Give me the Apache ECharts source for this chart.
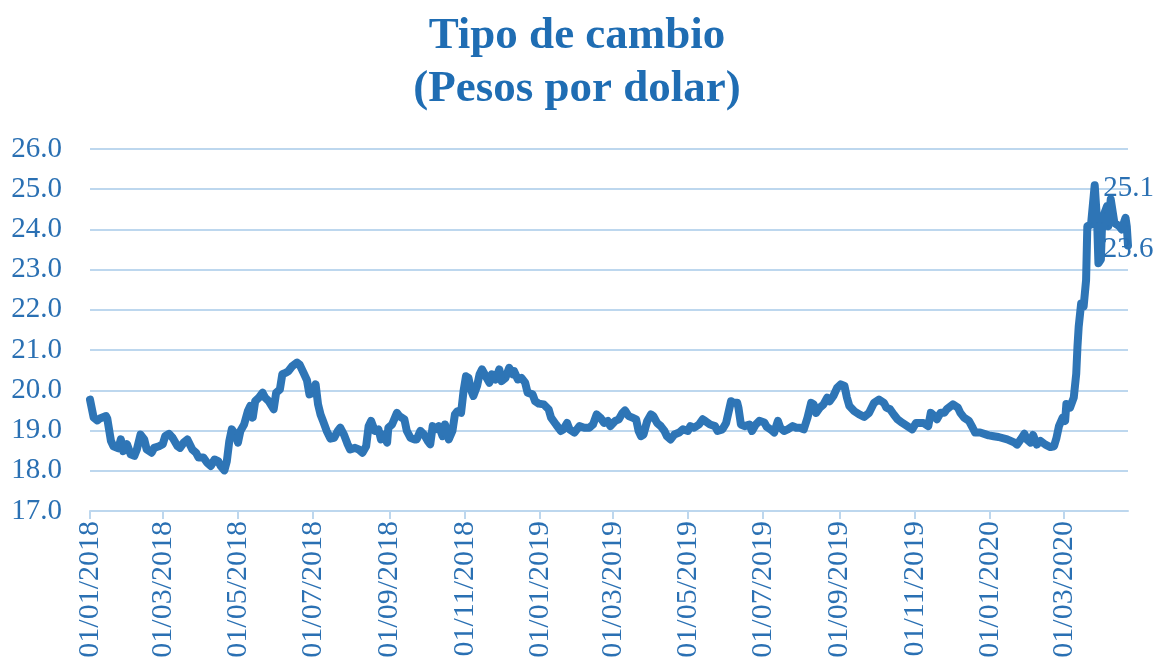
<!DOCTYPE html>
<html>
<head>
<meta charset="utf-8">
<title>Tipo de cambio</title>
<script src="https://cdn.jsdelivr.net/npm/echarts@6/dist/echarts.min.js"></script>
<style>
    html, body { margin: 0; padding: 0; background: #fff; }
    #chart { width: 1154px; height: 661px; }
</style>
</head>
<body>
<div id="chart"></div>
<script>
// Rango del eje de fechas y meses con etiqueta
var inicio = '2018-01-01';
var fin = '2020-04-22';
var mesesEtiqueta = ['01', '03', '05', '07', '09', '11'];

// Tipo de cambio (pesos por dolar)
var fechas2018 = [
    '2018-01-01','2018-01-04','2018-01-07','2018-01-09','2018-01-14','2018-01-15','2018-01-18','2018-01-20','2018-01-24','2018-01-26',
    '2018-01-28','2018-01-31','2018-02-03','2018-02-06','2018-02-08','2018-02-11','2018-02-14','2018-02-16','2018-02-20','2018-02-22',
    '2018-02-26','2018-03-01','2018-03-03','2018-03-06','2018-03-09','2018-03-13','2018-03-15','2018-03-18','2018-03-21','2018-03-25',
    '2018-03-28','2018-03-30','2018-04-03','2018-04-06','2018-04-09','2018-04-12','2018-04-15','2018-04-17','2018-04-20','2018-04-22',
    '2018-04-24','2018-04-26','2018-04-29','2018-05-01','2018-05-03','2018-05-06','2018-05-09','2018-05-11','2018-05-13','2018-05-15',
    '2018-05-18','2018-05-21','2018-05-23','2018-05-26','2018-05-30','2018-06-01','2018-06-04','2018-06-06','2018-06-09','2018-06-11',
    '2018-06-14','2018-06-18','2018-06-20','2018-06-23','2018-06-26','2018-06-28','2018-07-01','2018-07-03','2018-07-05','2018-07-07',
    '2018-07-09','2018-07-12','2018-07-15','2018-07-18','2018-07-21','2018-07-23','2018-07-26','2018-07-29','2018-07-31','2018-08-04',
    '2018-08-07','2018-08-10','2018-08-13','2018-08-15','2018-08-17','2018-08-20','2018-08-23','2018-08-25','2018-08-27','2018-08-30',
    '2018-08-31','2018-09-03','2018-09-07','2018-09-09','2018-09-13','2018-09-15','2018-09-18','2018-09-21','2018-09-23','2018-09-26',
    '2018-09-29','2018-10-02','2018-10-04','2018-10-06','2018-10-08','2018-10-11','2018-10-14','2018-10-16','2018-10-19','2018-10-22',
    '2018-10-24','2018-10-26','2018-10-29','2018-10-31','2018-11-02','2018-11-04','2018-11-06','2018-11-08','2018-11-11','2018-11-13',
    '2018-11-15','2018-11-18','2018-11-21','2018-11-23','2018-11-26','2018-11-29','2018-12-01','2018-12-04','2018-12-07','2018-12-10',
    '2018-12-11','2018-12-14','2018-12-17','2018-12-20','2018-12-22','2018-12-26','2018-12-28','2018-12-31'
];
var valores2018 = [
    19.77, 19.32, 19.25, 19.30, 19.36, 19.30, 18.74, 18.61, 18.56, 18.78,
    18.49, 18.66, 18.41, 18.37, 18.53, 18.90, 18.78, 18.53, 18.45, 18.57,
    18.61, 18.66, 18.86, 18.92, 18.82, 18.61, 18.57, 18.70, 18.78, 18.53,
    18.45, 18.33, 18.33, 18.20, 18.12, 18.28, 18.24, 18.12, 18.01, 18.24,
    18.74, 19.03, 18.90, 18.70, 18.99, 19.15, 19.48, 19.61, 19.32, 19.73,
    19.82, 19.94, 19.82, 19.73, 19.53, 19.94, 20.02, 20.40, 20.44, 20.48,
    20.60, 20.69, 20.64, 20.45, 20.25, 19.90, 19.94, 20.15, 19.65, 19.40,
    19.24, 18.99, 18.80, 18.82, 18.99, 19.07, 18.90, 18.66, 18.53, 18.57,
    18.53, 18.45, 18.61, 19.11, 19.24, 18.99, 19.03, 18.78, 18.90, 18.70,
    19.07, 19.15, 19.44, 19.36, 19.28, 18.99, 18.82, 18.78, 18.78, 18.99,
    18.90, 18.74, 18.66, 19.11, 19.03, 19.11, 18.86, 19.15, 18.78, 18.99,
    19.40, 19.48, 19.44, 19.98, 20.35, 20.31, 20.02, 19.86, 20.11, 20.40,
    20.52, 20.35, 20.19, 20.40, 20.27, 20.52, 20.23, 20.31, 20.56, 20.40,
    20.48, 20.27, 20.31, 20.19, 19.94, 19.90, 19.73, 19.67
];

var fechas2019 = [
    '2019-01-04','2019-01-08','2019-01-10','2019-01-14','2019-01-18','2019-01-20','2019-01-23','2019-01-25','2019-01-29','2019-02-02',
    '2019-02-06','2019-02-10','2019-02-13','2019-02-16','2019-02-19','2019-02-22','2019-02-25','2019-02-27','2019-03-03','2019-03-06',
    '2019-03-09','2019-03-11','2019-03-14','2019-03-17','2019-03-20','2019-03-22','2019-03-24','2019-03-26','2019-03-29','2019-04-01',
    '2019-04-03','2019-04-06','2019-04-09','2019-04-12','2019-04-14','2019-04-17','2019-04-20','2019-04-24','2019-04-27','2019-05-01',
    '2019-05-03','2019-05-06','2019-05-10','2019-05-13','2019-05-15','2019-05-19','2019-05-23','2019-05-25','2019-05-29','2019-06-01',
    '2019-06-02','2019-06-05','2019-06-07','2019-06-10','2019-06-11','2019-06-13','2019-06-16','2019-06-20','2019-06-22','2019-06-25',
    '2019-06-28','2019-07-02','2019-07-04','2019-07-07','2019-07-10','2019-07-13','2019-07-15','2019-07-18','2019-07-21','2019-07-25',
    '2019-07-28','2019-07-31','2019-08-03','2019-08-06','2019-08-09','2019-08-11','2019-08-13','2019-08-16','2019-08-19','2019-08-22',
    '2019-08-24','2019-08-27','2019-08-30','2019-09-02','2019-09-05','2019-09-07','2019-09-09','2019-09-13','2019-09-17','2019-09-21',
    '2019-09-25','2019-09-29','2019-10-03','2019-10-07','2019-10-09','2019-10-12','2019-10-15','2019-10-18','2019-10-22','2019-10-26',
    '2019-10-30','2019-11-02','2019-11-05','2019-11-08','2019-11-12','2019-11-14','2019-11-17','2019-11-19','2019-11-22','2019-11-25',
    '2019-11-27','2019-12-02','2019-12-06','2019-12-08','2019-12-11','2019-12-15','2019-12-18','2019-12-20','2019-12-24','2019-12-28',
    '2019-12-31'
];
var valores2019 = [
    19.65, 19.53, 19.32, 19.15, 18.99, 19.03, 19.19, 19.03, 18.95, 19.11,
    19.07, 19.07, 19.15, 19.40, 19.32, 19.19, 19.24, 19.11, 19.24, 19.28,
    19.44, 19.50, 19.36, 19.32, 19.28, 18.99, 18.86, 18.90, 19.24, 19.40,
    19.36, 19.19, 19.11, 18.99, 18.86, 18.78, 18.90, 18.95, 19.03, 18.99,
    19.11, 19.07, 19.15, 19.28, 19.24, 19.15, 19.11, 18.99, 19.03, 19.19,
    19.15, 19.73, 19.69, 19.69, 19.57, 19.15, 19.11, 19.15, 18.99, 19.15,
    19.24, 19.20, 19.09, 19.03, 18.95, 19.24, 19.07, 18.99, 19.03, 19.11,
    19.07, 19.07, 19.03, 19.32, 19.69, 19.65, 19.44, 19.57, 19.65, 19.82,
    19.73, 19.86, 20.06, 20.15, 20.11, 19.82, 19.61, 19.48, 19.40, 19.34,
    19.44, 19.69, 19.77, 19.69, 19.57, 19.53, 19.40, 19.28, 19.19, 19.11,
    19.03, 19.19, 19.19, 19.19, 19.11, 19.44, 19.36, 19.28, 19.44, 19.44,
    19.53, 19.65, 19.57, 19.44, 19.32, 19.24, 19.07, 18.95, 18.95, 18.91,
    18.88
];

var fechas2020 = [
    '2020-01-04','2020-01-08','2020-01-15','2020-01-21','2020-01-23','2020-01-26','2020-01-29','2020-01-31','2020-02-03','2020-02-05',
    '2020-02-08','2020-02-11','2020-02-15','2020-02-19','2020-02-22','2020-02-24','2020-02-26','2020-02-29','2020-03-02','2020-03-03',
    '2020-03-06','2020-03-08','2020-03-09','2020-03-11','2020-03-12','2020-03-13','2020-03-15','2020-03-17','2020-03-19','2020-03-20',
    '2020-03-23','2020-03-24','2020-03-26','2020-03-28','2020-03-29','2020-03-31','2020-04-01','2020-04-03','2020-04-05','2020-04-06',
    '2020-04-08','2020-04-09','2020-04-11','2020-04-13','2020-04-15','2020-04-17','2020-04-19','2020-04-20','2020-04-21','2020-04-22'
];
var valores2020 = [
    18.86, 18.84, 18.78, 18.70, 18.65, 18.78, 18.92, 18.78, 18.70, 18.89,
    18.65, 18.74, 18.65, 18.59, 18.61, 18.82, 19.11, 19.32, 19.24, 19.66,
    19.57, 19.74, 19.82, 20.41, 21.08, 21.58, 22.16, 22.08, 22.74, 24.08,
    24.12, 24.16, 25.10, 24.16, 23.16, 23.25, 24.16, 24.41, 24.58, 24.08,
    24.75, 24.79, 24.16, 24.12, 24.08, 24.00, 24.20, 24.29, 24.08, 23.60
];

var azul = '#2e75b6';
var azulTexto = '#2a70b3';
var azulTitulo = '#1f6db3';
var colorRejilla = '#bdd7ee';
var fuente = '"Liberation Serif", "Times New Roman", serif';

/**
 * Devuelve todos los dias (YYYY-MM-DD) entre dos fechas, ambas incluidas.
 */
function listaDias(desde, hasta) {
    var dias = [];
    var d = new Date(desde + 'T00:00:00Z');
    var h = new Date(hasta + 'T00:00:00Z');
    while (d <= h) {
        dias.push(d.toISOString().slice(0, 10));
        d.setUTCDate(d.getUTCDate() + 1);
    }
    return dias;
}

function esPrimeroDeMes(index, value) {
    return value.slice(8) === '01' && mesesEtiqueta.indexOf(value.slice(5, 7)) >= 0;
}

function renderTipoCambio(chartDivId) {
    var chart = echarts.init(document.getElementById(chartDivId));

    var dias = listaDias(inicio, fin);
    var fechas = fechas2018.concat(fechas2019, fechas2020);
    var valores = valores2018.concat(valores2019, valores2020);

    var iMax = 0;
    for (var i = 1; i < valores.length; i++) {
        if (valores[i] > valores[iMax]) iMax = i;
    }
    var iUlt = valores.length - 1;

    var datos = [];
    for (var j = 0; j < fechas.length; j++) {
        var item = { value: [fechas[j], valores[j]] };
        if (j === iMax) {
            item.label = { show: true, position: 'right', distance: 8, offset: [0, 3] };
        }
        if (j === iUlt) {
            item.label = { show: true, position: 'inside', offset: [0, 4] };
        }
        datos.push(item);
    }

    var options = {
        animation: false,
        title: {
            text: 'Tipo de cambio\n(Pesos por dolar)',
            left: 'center',
            top: 5,
            textStyle: {
                fontFamily: fuente,
                fontWeight: 'bold',
                fontSize: 45,
                lineHeight: 53,
                color: azulTitulo
            }
        },
        grid: {
            left: 90,
            right: 26,
            top: 149,
            bottom: 150,
            containLabel: false,
            outerBoundsMode: 'none'
        },
        xAxis: {
            type: 'category',
            data: dias,
            boundaryGap: false,
            axisLine: { lineStyle: { color: colorRejilla, width: 2 } },
            axisTick: {
                show: true,
                interval: esPrimeroDeMes,
                length: 8,
                lineStyle: { color: colorRejilla, width: 2 }
            },
            axisLabel: {
                interval: esPrimeroDeMes,
                rotate: 90,
                margin: 10,
                fontFamily: fuente,
                fontSize: 30,
                color: azulTexto,
                formatter: function (v) {
                    return v.slice(8, 10) + '/' + v.slice(5, 7) + '/' + v.slice(0, 4);
                }
            },
            splitLine: { show: false }
        },
        yAxis: {
            type: 'value',
            min: 17,
            max: 26,
            interval: 1,
            axisLine: { show: false },
            axisTick: { show: false },
            axisLabel: {
                margin: 28,
                fontFamily: fuente,
                fontSize: 29,
                color: azulTexto,
                formatter: function (v) { return v.toFixed(1); }
            },
            splitLine: { lineStyle: { color: colorRejilla, width: 2 } }
        },
        series: [
            {
                name: 'Tipo de cambio',
                type: 'line',
                data: datos,
                symbol: 'circle',
                symbolSize: 1,
                showSymbol: true,
                showAllSymbol: true,
                itemStyle: { color: azul },
                lineStyle: { color: azul, width: 8, cap: 'round', join: 'round' },
                label: {
                    show: false,
                    fontFamily: fuente,
                    fontSize: 29,
                    color: azulTexto,
                    formatter: function (p) { return p.value[1].toFixed(1); }
                },
                emphasis: { disabled: true }
            }
        ]
    };

    chart.setOption(options);
    chart.resize();
    window.onresize = function () {
        chart.resize();
    };
}

renderTipoCambio('chart');
</script>
</body>
</html>
